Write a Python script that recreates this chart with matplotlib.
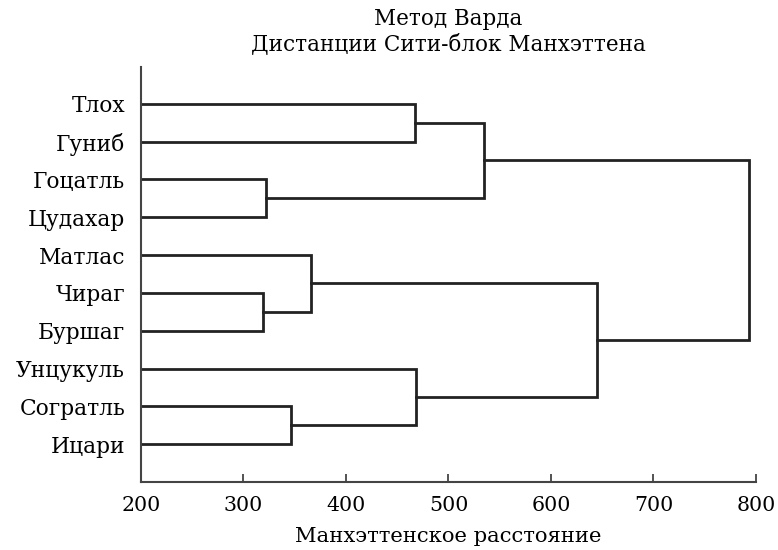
import matplotlib
matplotlib.use("Agg")
import matplotlib.pyplot as plt

# leaves, top to bottom
labels = ["Тлох", "Гуниб", "Гоцатль", "Цудахар", "Матлас",
          "Чираг", "Буршаг", "Унцукуль", "Согратль", "Ицари"]

# merges: new cluster ids start at 10 (like a scipy linkage)
left_ids = [0, 2, 5, 4, 8, 7, 10, 13, 16]
right_ids = [1, 3, 6, 12, 9, 14, 11, 15, 17]
heights = [467, 322, 319, 366, 346, 468, 535, 645, 793]

xticks = [200, 300, 400, 500, 600, 700, 800]

plt.rcParams["font.family"] = ["DejaVu Serif"]
plt.rcParams["font.size"] = 15

fig = plt.figure(figsize=(7.78, 5.5), dpi=100)
ax = fig.add_axes([0.1812, 0.1236, 0.7905, 0.7546])

line_color = "#222222"

# position and height of every node
ypos = {i: i for i in range(len(labels))}
xpos = {i: 0 for i in range(len(labels))}

for k, (a, b, h) in enumerate(zip(left_ids, right_ids, heights)):
    node = len(labels) + k
    ax.plot([xpos[a], h, h, xpos[b]], [ypos[a], ypos[a], ypos[b], ypos[b]],
            color=line_color, lw=2.0, solid_joinstyle="miter")
    ypos[node] = (ypos[a] + ypos[b]) / 2
    xpos[node] = h

ax.set_xlim(200, 800)
ax.set_ylim(10, -0.97)
ax.set_yticks(range(len(labels)))
ax.set_yticklabels(labels, fontsize=15.7)
ax.set_xticks(xticks)
ax.tick_params(axis="y", length=0, pad=11.5)
ax.tick_params(axis="x", direction="in", length=6, width=1.3, color="#444444",
               pad=10, labelsize=14.8)

for s in ["top", "right"]:
    ax.spines[s].set_visible(False)
for s in ["left", "bottom"]:
    ax.spines[s].set_linewidth(1.5)
    ax.spines[s].set_color("#444444")

ax.set_xlabel("Манхэттенское расстояние", fontsize=15.2, labelpad=9)
ax.set_title("Метод Варда\nДистанции Сити-блок Манхэттена", fontsize=15.5,
             pad=12, linespacing=1.2)

fig.savefig("out.png", dpi=100)
